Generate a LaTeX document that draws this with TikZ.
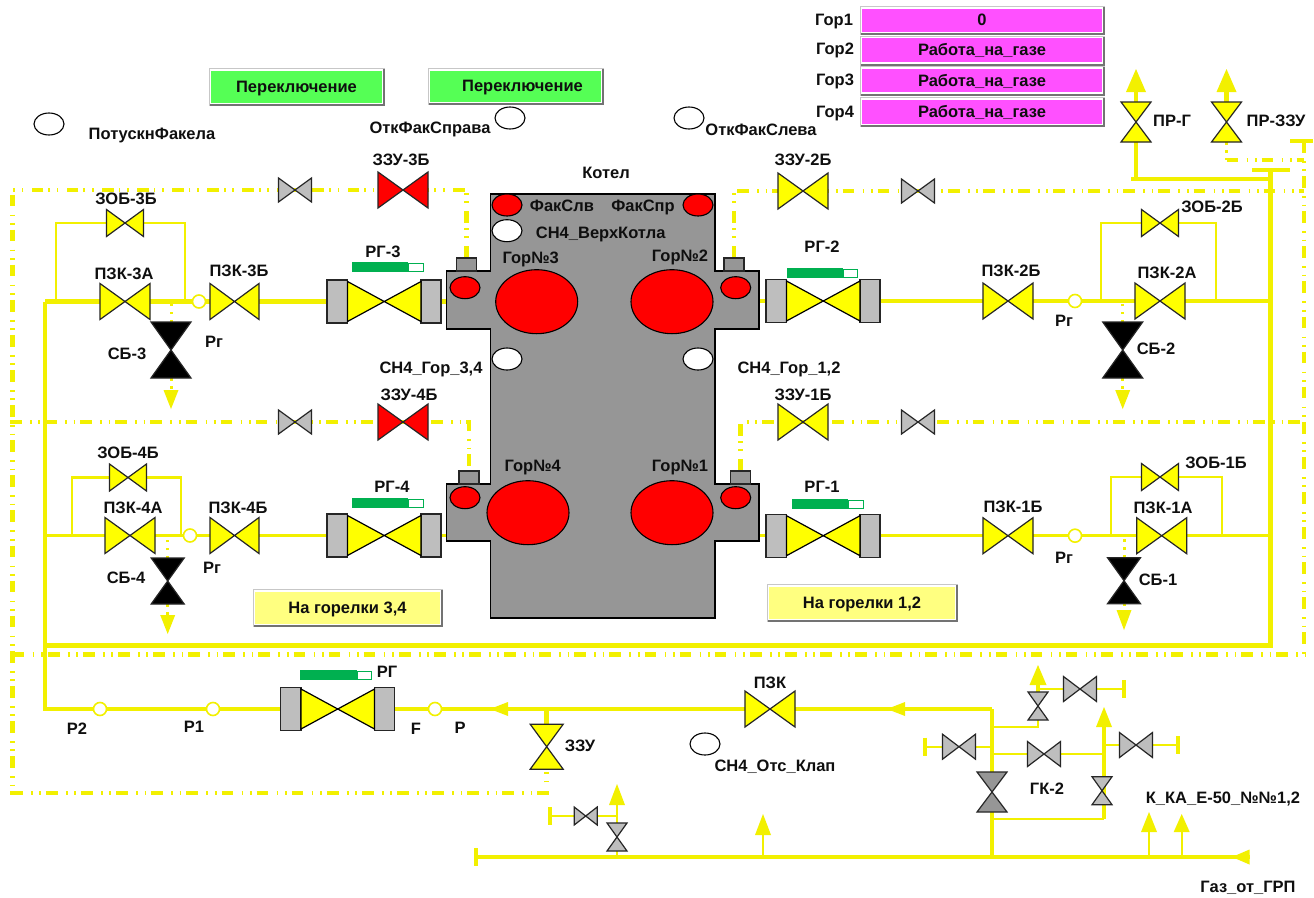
\documentclass[tikz,border=0pt]{standalone}
\usepackage{fontspec}
\setmainfont{Liberation Sans}
\usetikzlibrary{calc}
\pgfdeclarelayer{pipes}
\pgfsetlayers{pipes,main}
\definecolor{pipey}{RGB}{242,240,0}
\definecolor{vyel}{RGB}{255,255,0}
\definecolor{vgray}{RGB}{190,190,190}
\definecolor{vdark}{RGB}{150,150,150}
\definecolor{boil}{RGB}{150,150,150}
\definecolor{vred}{RGB}{255,0,0}
\definecolor{mag}{RGB}{255,80,255}
\definecolor{grn}{RGB}{85,255,85}
\definecolor{pale}{RGB}{255,255,128}
\definecolor{bar}{RGB}{0,176,80}
\definecolor{txt}{RGB}{15,15,15}
\tikzset{
  vbox/.style={inner sep=0pt,outer sep=0pt,rectangle},
  vline/.style={draw=black!85,line width=1.2pt,line join=miter},
  pipeA/.style={draw=pipey,line width=4.5pt,line join=miter},
  pipeB/.style={draw=pipey,line width=3.5pt,line join=miter},
  pipeC/.style={draw=pipey,line width=2.4pt,line join=miter},
  ddot/.style={draw=pipey,line width=4.7pt,dash pattern=on 11.7pt off 8.3pt on 1.7pt off 6.7pt on 1.7pt off 5pt},
  drip/.style={draw=pipey,line width=3pt,dash pattern=on 2.5pt off 5.5pt},
  lbl/.style={inner sep=0pt,outer sep=0pt,text=txt,text height=11.5pt,text depth=0pt,font=\fontsize{16.5}{18}\selectfont\bfseries},
  lam/.style={draw=black,line width=1.1pt},
  rgbox/.style={draw=black!85,line width=1.3pt,fill=vgray},
}
\newcounter{labc}
\newcommand{\lab}[4][]{\stepcounter{labc}\node[lbl,#1] (t\thelabc) at (#2,#3) {#4};}
% horizontal bow-tie valve
\newcommand{\hv}[6]{\node[vbox,minimum width=#4pt,minimum height=#5pt] (#1) at (#2,#3) {};
  \path[vline,fill=#6] (#1.north west) -- (#1.south east) -- (#1.north east) -- (#1.south west) -- cycle;}
% vertical bow-tie valve
\newcommand{\vv}[6]{\node[vbox,minimum width=#4pt,minimum height=#5pt] (#1) at (#2,#3) {};
  \path[vline,fill=#6] (#1.north west) -- (#1.north east) -- (#1.south west) -- (#1.south east) -- cycle;}
% regulating valve with flanges and position bar; #4 bar left, #5 bar right, #6 bar top, #7 filled-to
\newcommand{\rg}[7]{\node[vbox,minimum width=114pt,minimum height=43pt] (#1) at (#2,#3) {};
  \draw[rgbox] (#1.north west) rectangle ++(20.5,43);
  \draw[rgbox] (#1.north east) rectangle ++(-20,43);
  \path[draw=black,line width=1.2pt,fill=vyel] ($(#1.west)+(20.5,-20)$) -- ($(#1.east)+(-20,20)$) -- ($(#1.east)+(-20,-20)$) -- ($(#1.west)+(20.5,20)$) -- cycle;
  \node[vbox,minimum width=1pt,minimum height=1pt] (#1bar) at (#4,#6) {};
  \fill[bar] (#4,#6) rectangle (#7,#6+10);
  \path[draw=bar,line width=1pt,fill=white] (#7,#6+1) rectangle (#5,#6+9.5);}
\newcommand{\lamp}[5]{\node[vbox] (#1) at (#2,#3) {};\path[lam,fill=#5] (#1) ellipse (#4);}
\newcommand{\gauge}[3]{\node[vbox,circle,minimum size=13pt,draw=pipey,line width=1.6pt,fill=white] (#1) at (#2,#3) {};}
% arrow: name, x, tip y, base y, width
\newcommand{\arrV}[5]{\coordinate (#1) at (#2,#4);\fill[pipey] (#2,#3) -- (#2+#5/2,#4) -- (#2-#5/2,#4) -- cycle;}
\newcommand{\arrL}[5]{\coordinate (#1) at (#3,#4);\fill[pipey] (#2,#4) -- (#3,#4-#5/2) -- (#3,#4+#5/2) -- cycle;}
\newcommand{\tcap}[3]{\coordinate (#1) at (#2,#3);\draw[pipeB] (#2,#3-9) -- (#2,#3+9);}
% bevelled panel
\newcommand{\panel}[7]{%
  \fill[black!22] (#2,#3) rectangle (#4,#5);
  \fill[black!55] (#2+1,#5-2) rectangle (#4,#5);
  \fill[black!55] (#4-2,#3+1) rectangle (#4,#5);
  \fill[white] (#2+1,#3+1) rectangle (#4-2,#5-2);
  \node[lbl,fill=#6,minimum width=#4pt-#2pt-5pt,minimum height=#5pt-#3pt-6pt] (#1) at ({(#2+#4)/2-0.5},{(#3+#5)/2-0.5}) {#7};}
\begin{document}
\begin{tikzpicture}[x=1pt,y=-1pt]
\useasboundingbox (0,0) rectangle (1314,897);
\begin{pgfonlayer}{pipes}\fill[white] (0,0) rectangle (1314,897);\end{pgfonlayer}

% ---------- boiler
\path[draw=black,line width=1.3pt,fill=boil]
  (490.7,194) -- (715,194) -- (715,271) -- (759,271) -- (759,329) -- (715,329) -- (715,484) -- (759,484) -- (759,541) -- (715,541) -- (715,618)
  -- (490.7,618) -- (490.7,541) -- (446.7,541) -- (446.7,484) -- (490.7,484) -- (490.7,329) -- (446.7,329) -- (446.7,271) -- (490.7,271) -- cycle;
\coordinate (wl3) at (447,301.5); \coordinate (wr2) at (759,301);
\coordinate (wl4) at (450,535.5); \coordinate (wr1) at (759,535.7);
\foreach \nm/\xa/\ya in {box3/456.7/258,box2/724/258,box4/459/471,box1/730.7/471}{
  \node[vbox,minimum width=20pt,minimum height=13pt,draw=black!85,line width=1.2pt,fill=boil] (\nm) at (\xa+10,\ya+6.5) {};}
\lamp{gb3}{536.7}{301.7}{41pt and 32pt}{vred}
\lamp{gb2}{672}{301.7}{41pt and 32pt}{vred}
\lamp{gb4}{528}{512.7}{41pt and 32pt}{vred}
\lamp{gb1}{672}{512.7}{41pt and 32pt}{vred}
\lamp{gs3}{465}{287.7}{15pt and 11pt}{vred}
\lamp{gs2}{735.7}{287.7}{15pt and 11pt}{vred}
\lamp{gs4}{465}{497.7}{15pt and 11pt}{vred}
\lamp{gs1}{735.7}{497.7}{15pt and 11pt}{vred}
\lamp{fl}{507}{205}{15pt and 11pt}{vred}
\lamp{fr}{698}{205}{15pt and 11pt}{vred}
\lamp{ch4t}{507}{230.7}{15pt and 11pt}{white}
\lamp{ch4l}{507}{359}{15pt and 11pt}{white}
\lamp{ch4r}{698}{359}{15pt and 11pt}{white}
\lamp{pf}{49}{124}{15pt and 11pt}{white}
\lamp{ofp}{510}{118}{15pt and 11pt}{white}
\lamp{ofl}{689}{118}{15pt and 11pt}{white}
\lamp{otk}{705}{744}{15pt and 11pt}{white}

% ---------- bowtie valves
\hv{zob3}{125}{223}{37}{27}{vyel}
\hv{pzk3a}{125}{301.5}{50}{36}{vyel}
\hv{pzk3b}{234.5}{301.5}{49}{36}{vyel}
\vv{sb3}{171}{350}{40}{56}{black}
\hv{g3}{295}{190}{33}{24}{vgray}
\hv{zzu3}{403}{190}{50}{36}{vred}
\hv{g4}{295}{422}{33}{24}{vgray}
\hv{zzu4}{403}{422}{50}{36}{vred}
\hv{zob4}{128}{477.5}{37}{27}{vyel}
\hv{pzk4a}{130}{535.5}{50}{36}{vyel}
\hv{pzk4b}{234.5}{535.5}{49}{36}{vyel}
\vv{sb4}{167.7}{581}{33}{46}{black}
\hv{zzu2}{803}{191}{50}{36}{vyel}
\hv{g2}{918}{191}{33}{24}{vgray}
\hv{zzu1}{803}{422}{50}{36}{vyel}
\hv{g1}{918}{422}{33}{24}{vgray}
\hv{zob2}{1160}{223}{37}{27}{vyel}
\hv{pzk2b}{1008}{301}{50}{36}{vyel}
\hv{pzk2a}{1160}{301}{50}{36}{vyel}
\vv{sb2}{1122.7}{350}{40}{56}{black}
\hv{zob1}{1160}{477}{37}{27}{vyel}
\hv{pzk1b}{1008}{535.7}{50}{36}{vyel}
\hv{pzk1a}{1161.7}{535.7}{50}{36}{vyel}
\vv{sb1}{1124}{580.7}{33}{46}{black}
\vv{prg}{1136}{122}{30}{40}{vyel}
\vv{przu}{1226.5}{122}{30}{40}{vyel}
\hv{pzkm}{770}{709}{50}{36}{vyel}
\vv{zzum}{546.7}{746.7}{33}{45}{vyel}
\vv{gk}{992}{792}{30}{40}{vdark}
\vv{s1}{1038}{706}{20}{28}{vgray}
\hv{s2}{1080}{689}{33}{25}{vgray}
\hv{s3}{959}{746.7}{33}{25}{vgray}
\hv{s4}{1044}{754}{33}{25}{vgray}
\vv{s5}{1102}{790.7}{20}{28}{vgray}
\hv{s6}{1136}{745}{33}{25}{vgray}
\vv{s7}{617}{837}{20}{28}{vgray}
\hv{s8}{585.7}{816}{23}{18}{vgray}

% ---------- regulators
\rg{rg3}{384}{301.5}{352}{423}{262}{408}
\rg{rg4}{384}{535.5}{352}{423}{498}{408}
\rg{rg2}{823}{301}{787}{857}{268}{843}
\rg{rg1}{823}{535.7}{792}{863}{499}{848}
\rg{rgm}{337.5}{709}{300}{371}{670}{357}

% ---------- gauges
\gauge{c3}{199}{301.5}
\gauge{c4}{190}{535.5}
\gauge{c2}{1075}{301}
\gauge{c1}{1075}{535.7}
\gauge{p2}{100}{709}
\gauge{p1}{213}{709}
\gauge{pf2}{435}{709}

% ---------- arrows
\arrV{asb3}{171}{409}{390}{15}
\arrV{asb4}{167.7}{634}{615}{15}
\arrV{asb2}{1122.7}{409}{390}{15}
\arrV{asb1}{1124}{630}{610}{15}
\arrV{aprg}{1136}{69}{92}{20}
\arrV{aprz}{1226.5}{69}{92}{20}
\arrV{as1}{1038}{665}{685}{17}
\arrV{as5}{1104}{707}{727}{16}
\arrV{ag1}{1149}{812}{832}{16}
\arrV{ag2}{1181.7}{814}{832}{16}
\arrV{ag3}{763}{814}{835}{16}
\arrV{as7}{617}{784}{805}{16}
\arrL{ag}{1232}{1249.5}{857}{15}
\arrL{am1}{490}{508}{709}{14}
\arrL{am2}{887}{905}{709}{14}

% ---------- junctions and caps
\coordinate (jl3) at (45,301.5); \coordinate (jl4) at (45,535.5); \coordinate (jlm) at (45,645.5); \coordinate (jlb) at (45,709);
\coordinate (jr2) at (1270.5,301); \coordinate (jr1) at (1270.5,535.7); \coordinate (jrm) at (1270.5,645.5); \coordinate (jrt) at (1270.5,170);
\coordinate (cta) at (1252,170); \coordinate (ctb) at (1290,170);
\coordinate (jt1) at (1131,179); \coordinate (jt2) at (1270.5,179); \coordinate (jt3) at (1136,179);
\coordinate (b3a) at (56,301.5); \coordinate (b3b) at (185,301.5);
\coordinate (b4a) at (72,535.5); \coordinate (b4b) at (181,535.5);
\coordinate (b2a) at (1100.7,301); \coordinate (b2b) at (1216,301);
\coordinate (b1a) at (1111,535.7); \coordinate (b1b) at (1222,535.7);
\coordinate (d3t) at (171,301.5); \coordinate (d4t) at (167.7,535.5); \coordinate (d2t) at (1122.7,301); \coordinate (d1t) at (1124,535.7);
\coordinate (e2e) at (992,709); \coordinate (e2b) at (992,857); \coordinate (gs) at (478,857);
\coordinate (mz) at (546.7,709); \coordinate (zb) at (546.7,793);
\coordinate (ol) at (12.7,190); \coordinate (olb) at (12.7,793); \coordinate (l4) at (10,422);
\coordinate (r1t) at (1304,191); \coordinate (r2t) at (1304,422); \coordinate (rtop) at (1304,141); \coordinate (rbot) at (1304,654);
\coordinate (hl) at (12.7,654.5); \coordinate (hr) at (1306,654.5);
\coordinate (pz) at (1226.5,160); \coordinate (pzr) at (1304,160);
\coordinate (tca) at (1290,141); \coordinate (tcb) at (1313,141);
\coordinate (k1) at (992,727); \coordinate (k2) at (1038,727); \coordinate (k3) at (992,754); \coordinate (k4) at (1104,754);
\coordinate (k5) at (992,746.7); \coordinate (k6) at (1104,745); \coordinate (k7) at (992,819); \coordinate (k8) at (1104,819);
\coordinate (k9) at (1038,689);
\coordinate (n1) at (1149,857); \coordinate (n2) at (1181.7,857); \coordinate (n3) at (763,857); \coordinate (n4) at (617,816);
\tcap{cp1}{1124}{689}
\tcap{cp2}{925}{746.7}
\tcap{cp3}{1178}{745}
\tcap{cp4}{550}{816}
\tcap{cp5}{476}{857}

% ---------- pipes (under everything)
\begin{pgfonlayer}{pipes}
\draw[ddot] (box3.north) |- (ol) -- (olb) -- (zb) -- (zzum.south);
\draw[ddot] (l4) -| (box4.north);
\draw[ddot] (box2.north) |- (r1t);
\draw[ddot] (box1.north) |- (r2t);
\draw[ddot] (hl) -- (hr);
\draw[ddot] (rtop) -- (rbot);
\draw[ddot] (pz) -- (pzr);
\draw[pipeB] (tca) -- (tcb);
\draw[drip] (przu.south) -- (pz);
\draw[pipeA] (mz) -- (zzum.north);

\draw[pipeA] (jl3) -- (jlb) -- (p2);
\draw[pipeA] (p2) -- (p1);
\draw[pipeA] (p1) -- (rgm.west);
\draw[pipeA] (rgm.east) -- (pf2);
\draw[pipeA] (pf2) -- (pzkm.west);
\draw[pipeA] (pzkm.east) -- (e2e);
\draw[pipeA] (e2e) -- (gk.north);
\draw[pipeA] (gk.south) -- (e2b);
\draw[pipeB] (gs) -- (ag);
\draw[pipeA] (jlm) -- (jrm) -- (jrt);
\draw[pipeB] (cta) -- (ctb);
\draw[pipeA] (jt1) -- (jt2);
\draw[pipeA] (jt3) -- (prg.south);
\draw[pipeA] (prg.north) -- (aprg);
\draw[pipeA] (przu.north) -- (aprz);

\draw[pipeA] (jl3) -- (pzk3a.west);
\draw[pipeA] (pzk3a.east) -- (c3);
\draw[pipeA] (c3) -- (pzk3b.west);
\draw[pipeA] (pzk3b.east) -- (rg3.west);
\draw[pipeA] (rg3.east) -- (wl3);
\draw[pipeC] (b3a) |- (zob3.west);
\draw[pipeC] (zob3.east) -| (b3b);

\draw[pipeB] (jl4) -- (pzk4a.west);
\draw[pipeB] (pzk4a.east) -- (c4);
\draw[pipeB] (c4) -- (pzk4b.west);
\draw[pipeB] (pzk4b.east) -- (rg4.west);
\draw[pipeB] (rg4.east) -- (wl4);
\draw[pipeC] (b4a) |- (zob4.west);
\draw[pipeC] (zob4.east) -| (b4b);

\draw[pipeB] (wr2) -- (rg2.west);
\draw[pipeB] (rg2.east) -- (pzk2b.west);
\draw[pipeB] (pzk2b.east) -- (c2);
\draw[pipeB] (c2) -- (pzk2a.west);
\draw[pipeB] (pzk2a.east) -- (jr2);
\draw[pipeC] (b2a) |- (zob2.west);
\draw[pipeC] (zob2.east) -| (b2b);

\draw[pipeB] (wr1) -- (rg1.west);
\draw[pipeB] (rg1.east) -- (pzk1b.west);
\draw[pipeB] (pzk1b.east) -- (c1);
\draw[pipeB] (c1) -- (pzk1a.west);
\draw[pipeB] (pzk1a.east) -- (jr1);
\draw[pipeC] (b1a) |- (zob1.west);
\draw[pipeC] (zob1.east) -| (b1b);

\draw[drip] (sb3.north) -- (d3t);
\draw[drip] (sb3.south) -- (asb3);
\draw[drip] (sb4.north) -- (d4t);
\draw[drip] (sb4.south) -- (asb4);
\draw[drip] (sb2.north) -- (d2t);
\draw[drip] (sb2.south) -- (asb2);
\draw[drip] (sb1.north) -- (d1t);
\draw[drip] (sb1.south) -- (asb1);

\draw[pipeC] (k1) -| (s1.south);
\draw[pipeB] (s1.north) -- (as1);
\draw[pipeC] (k9) -- (s2.west);
\draw[pipeC] (s2.east) -- (cp1);
\draw[pipeC] (k5) -- (s3.east);
\draw[pipeC] (s3.west) -- (cp2);
\draw[pipeC] (k3) -- (s4.west);
\draw[pipeC] (s4.east) -- (k4);
\draw[pipeB] (k8) -- (as5);
\draw[pipeC] (k6) -- (s6.west);
\draw[pipeC] (s6.east) -- (cp3);
\draw[pipeC] (k7) -- (k8);
\draw[pipeC] (n1) -- (ag1);
\draw[pipeC] (n2) -- (ag2);
\draw[pipeC] (n3) -- (ag3);
\draw[pipeC] (gs -| s7) -- (s7.south);
\draw[pipeC] (s7.north) -- (as7);
\draw[pipeC] (n4) -- (s8.east);
\draw[pipeC] (s8.west) -- (cp4);
\end{pgfonlayer}

% ---------- panels
\panel{btn1}{209}{68}{385}{106}{grn}{Переключение}
\panel{btn2}{428}{68}{604}{105}{grn}{\hspace*{14pt}Переключение}
\panel{hg}{253}{589}{443}{627}{pale}{На горелки 3,4}
\panel{hg2}{767}{584}{958}{622}{pale}{На горелки 1,2}
\panel{r1}{860}{6}{1105}{35}{mag}{0}
\panel{r2}{860}{35.5}{1105}{65.5}{mag}{Работа\_на\_газе}
\panel{r3}{860}{66}{1105}{95.5}{mag}{Работа\_на\_газе}
\panel{r4}{860}{97}{1105}{127}{mag}{Работа\_на\_газе}

% ---------- labels
\lab{834}{20}{Гор1}
\lab{835}{49}{Гор2}
\lab{835}{80}{Гор3}
\lab{835}{112}{Гор4}
\lab{152}{134}{ПотускнФакела}
\lab{430}{128}{ОткФакСправа}
\lab{761}{130}{ОткФакСлева}
\lab{606}{173}{Котел}
\lab{401}{160}{ЗЗУ-3Б}
\lab{803}{160}{ЗЗУ-2Б}
\lab{126}{199}{ЗОБ-3Б}
\lab{124}{274}{ПЗК-3А}
\lab{239}{271}{ПЗК-3Б}
\lab{383}{252}{РГ-3}
\lab{127}{354}{СБ-3}
\lab{214}{342}{Рг}
\lab{431}{368}{СН4\_Гор\_3,4}
\lab{409}{395}{ЗЗУ-4Б}
\lab{562}{206}{ФакСлв}
\lab{643}{206}{ФакСпр}
\lab{600.7}{233}{СН4\_ВерхКотла}
\lab{530.7}{258}{Гор№3}
\lab{680}{256}{Гор№2}
\lab{822}{247}{РГ-2}
\lab{789}{368}{СН4\_Гор\_1,2}
\lab{803}{395}{ЗЗУ-1Б}
\lab{1172}{121}{ПР-Г}
\lab{1276}{121}{ПР-ЗЗУ}
\lab{1212}{207}{ЗОБ-2Б}
\lab{1011}{271}{ПЗК-2Б}
\lab{1167}{273}{ПЗК-2А}
\lab{1064}{321}{Рг}
\lab{1156}{349}{СБ-2}
\lab{1216}{463}{ЗОБ-1Б}
\lab{1013}{507}{ПЗК-1Б}
\lab{1163}{508}{ПЗК-1А}
\lab{1064}{558}{Рг}
\lab{1158}{580}{СБ-1}
\lab{128}{453}{ЗОБ-4Б}
\lab{133}{508}{ПЗК-4А}
\lab{238}{508}{ПЗК-4Б}
\lab{392}{487}{РГ-4}
\lab{212}{568}{Рг}
\lab{126}{578}{СБ-4}
\lab{77}{729}{Р2}
\lab{194}{727}{Р1}
\lab{416}{729}{F}
\lab{387}{672}{РГ}
\lab{460}{728}{Р}
\lab{580}{746}{ЗЗУ}
\lab{770}{683}{ПЗК}
\lab{775}{766}{СН4\_Отс\_Клап}
\lab{1047}{789}{ГК-2}
\lab{1223}{798}{К\_КА\_Е-50\_№№1,2}
\lab{1248}{887}{Газ\_от\_ГРП}
\lab{532.7}{466}{Гор№4}
\lab{680}{466}{Гор№1}
\lab{822}{487}{РГ-1}
\end{tikzpicture}
\end{document}
